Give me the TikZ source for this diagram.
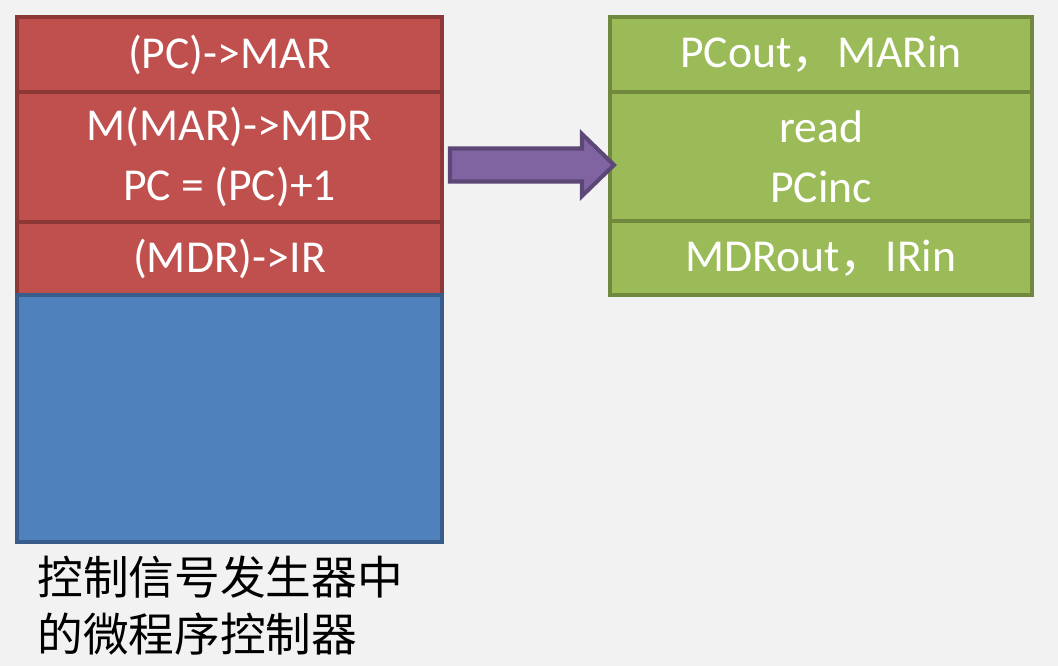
\documentclass[tikz,border=0pt]{standalone}
\usepackage{fontspec}
\setmainfont{Carlito}
\newfontfamily\cjk{Noto Sans CJK SC}
\usetikzlibrary{positioning,calc}
\definecolor{bgGrey}{HTML}{F2F2F2}
\definecolor{redFill}{HTML}{C0504D}
\definecolor{redLine}{HTML}{8C3836}
\definecolor{greenFill}{HTML}{9BBB59}
\definecolor{greenLine}{HTML}{71893F}
\definecolor{blueFill}{HTML}{4F81BD}
\definecolor{blueLine}{HTML}{385D8A}
\definecolor{purpleFill}{HTML}{8064A2}
\definecolor{purpleLine}{HTML}{5C4776}
\begin{document}
\begin{tikzpicture}[
    stepbox/.style={draw=redLine, fill=redFill, line width=2.3pt,
        minimum width=8.5cm, inner sep=0pt, outer sep=0pt,
        text=white, align=center, font=\fontsize{26}{34}\selectfont},
    sigbox/.style={stepbox, draw=greenLine, fill=greenFill, minimum width=8.44cm},
    blockarrow/.style={draw=purpleLine, fill=purpleFill, line width=2.3pt, line join=miter}]
    \fill[bgGrey] (0,0) rectangle (21.16,-13.32);
    \useasboundingbox (0,0) rectangle (21.16,-13.32);

    % microprogram column
    \node[stepbox, minimum height=1.5cm, anchor=north west] (stepA) at (0.34,-0.34) {(PC)->MAR};
    \node[stepbox, minimum height=2.6cm, below=0pt of stepA] (stepB) {M(MAR)->MDR\\PC = (PC)+1};
    \node[stepbox, minimum height=1.46cm, below=0pt of stepB] (stepC) {(MDR)->IR};
    \node[stepbox, draw=blueLine, fill=blueFill, minimum height=4.94cm, below=0pt of stepC] (blk) {};
    \node[below right=0.28cm and 0.4cm of blk.south west, anchor=north west, inner sep=0pt,
        align=left, font=\cjk\fontsize{26}{32}\selectfont] (caption)
        {控制信号发生器中\\的微程序控制器};

    % control signals
    \node[sigbox, minimum height=1.5cm, anchor=north west] (sigA) at (12.2,-0.34) {PCout{\cjk ，}MARin};
    \node[sigbox, minimum height=2.58cm, below=0pt of sigA] (sigB) {read\\PCinc};
    \node[sigbox, minimum height=1.48cm, below=0pt of sigB] (sigC) {MDRout{\cjk ，}IRin};

    % block arrow
    \coordinate (arrS) at ($(stepB.east)+(0.16,-0.16)$);
    \draw[blockarrow] (arrS) ++(0,0.33) -- ++(2.64,0) -- ++(0,0.29) -- ++(0.64,-0.62)
        -- ++(-0.64,-0.62) -- ++(0,0.29) -- ++(-2.64,0) -- cycle;
\end{tikzpicture}
\end{document}
